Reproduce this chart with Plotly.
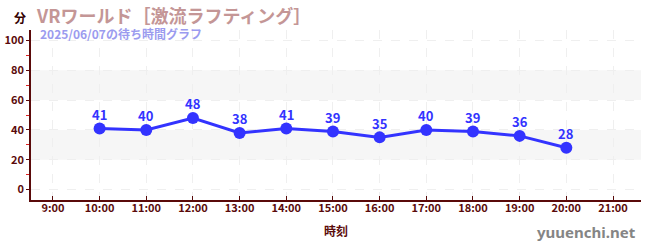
import plotly.graph_objects as go

hours = [10, 11, 12, 13, 14, 15, 16, 17, 18, 19, 20]
waits = [41, 40, 48, 38, 41, 39, 35, 40, 39, 36, 28]
tick_hours = list(range(9, 22))
tick_labels = [f"{h}:00" for h in tick_hours]
y_ticks = [0, 20, 40, 60, 80, 100]
bands = [(20, 40), (60, 80)]

FONT = "Noto Sans CJK JP"
AX = "#5a0a0a"

fig = go.Figure()
for y0, y1 in bands:
    fig.add_shape(type="rect", xref="paper", x0=0, x1=1, yref="y", y0=y0, y1=y1,
                  fillcolor="#f6f6f6", line_width=0, layer="below")

fig.add_trace(go.Scatter(
    x=hours, y=waits, mode="lines+markers",
    line=dict(color="#3333ff", width=3),
    marker=dict(color="#3333ff", size=12),
    hoverinfo="skip",
))
for h, v in zip(hours, waits):
    fig.add_annotation(x=h, y=v, text=f"<b>{v}</b>", showarrow=False,
                       yanchor="middle", yshift=14,
                       font=dict(family=FONT, size=13, color="#3333ff"))

fig.update_layout(
    width=650, height=250,
    margin=dict(l=31, r=9, t=30, b=50),
    plot_bgcolor="white", paper_bgcolor="white",
    showlegend=False,
    font=dict(family=FONT, color=AX),
    xaxis=dict(range=[8.53, 21.6], tickvals=tick_hours, ticktext=[f"<b>{t}</b>" for t in tick_labels],
               showgrid=True, gridcolor="#efefef", griddash="dash", gridwidth=1,
               showline=True, linecolor=AX, linewidth=1.5,
               ticks="inside", ticklen=4, tickcolor=AX, automargin=False,
               ticklabelstandoff=-3,
               tickfont=dict(size=11, color=AX, family=FONT),
               zeroline=False),
    yaxis=dict(range=[-7, 107], tickvals=y_ticks, ticktext=[f"<b>{t}</b>" for t in y_ticks],
               showgrid=True, gridcolor="#efefef", griddash="dash", gridwidth=1,
               showline=True, linecolor=AX, linewidth=1.5,
               ticks="outside", ticklen=3, tickcolor=AX, automargin=False,
               tickfont=dict(size=11, color=AX, family=FONT),
               zeroline=False,
               minor=dict(tickvals=[10, 30, 50, 70, 90], ticks="outside", ticklen=3,
                          tickcolor="#dd2222", showgrid=False)),
)

fig.add_annotation(xref="paper", yref="paper", x=0.5, y=0, yshift=-30, yanchor="middle",
                   text="<b>時刻</b>", showarrow=False,
                   font=dict(size=12, color=AX, family=FONT))
fig.add_annotation(xref="paper", yref="paper", x=-0.031, y=1.0, yshift=13, yanchor="middle",
                   text="<b>分</b>", showarrow=False, xanchor="left",
                   font=dict(size=12, color="#330000", family=FONT))
fig.add_annotation(xref="paper", yref="paper", x=0.005, y=1.0, yshift=15, yanchor="middle",
                   text="<b>VRワールド［激流ラフティング］</b>", showarrow=False, xanchor="left",
                   font=dict(size=18, color="#c49696", family=FONT))
fig.add_annotation(xref="paper", yref="paper", x=0.012, y=1.0, yshift=-3, yanchor="middle",
                   text="<b>2025/06/07の待ち時間グラフ</b>", showarrow=False, xanchor="left",
                   font=dict(size=12, color="#9b9bef", family=FONT))
fig.add_annotation(xref="paper", yref="paper", x=1.0, y=0, yshift=-32, xshift=-3, yanchor="middle",
                   text="<b>yuuenchi.net</b>", showarrow=False, xanchor="right",
                   font=dict(size=15, color="#858585", family="Noto Sans"))

fig.write_html("out.html")
